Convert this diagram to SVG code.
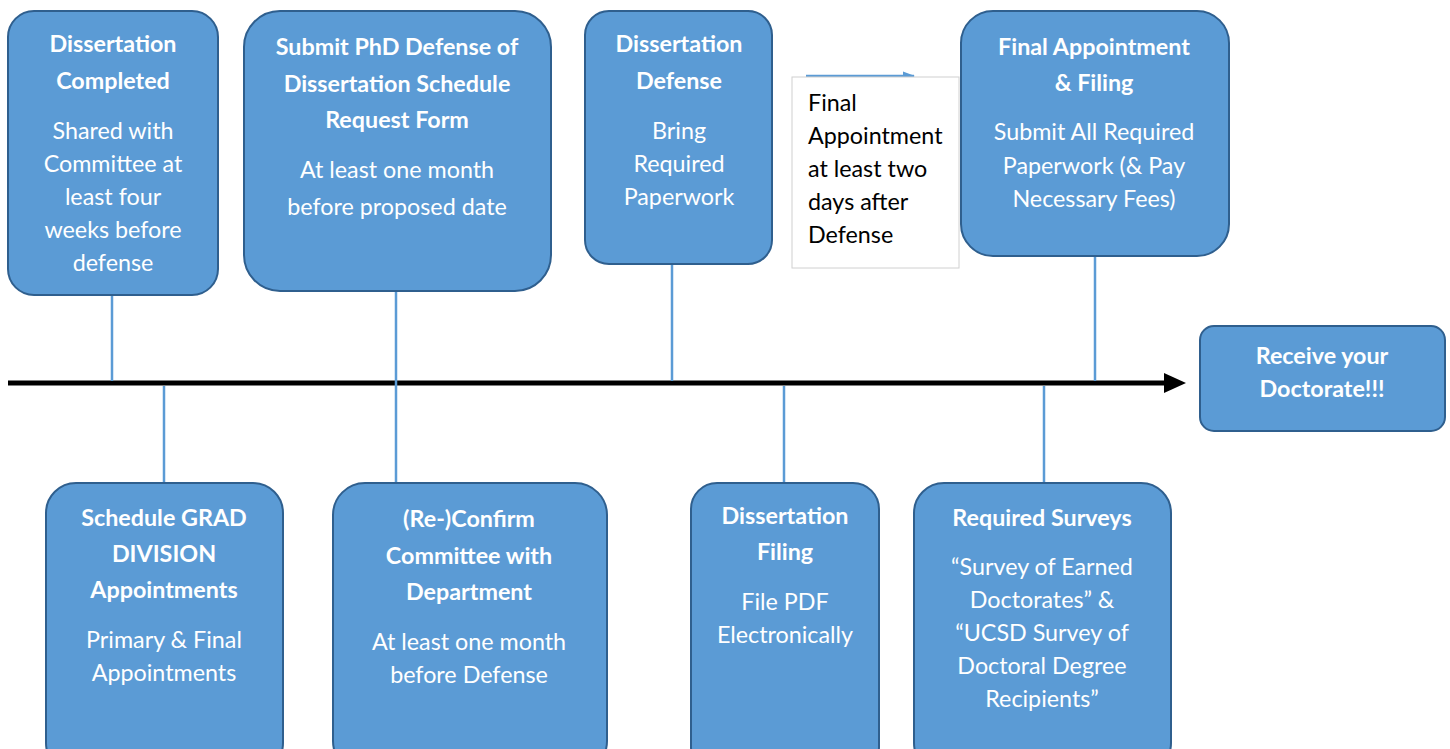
<svg xmlns="http://www.w3.org/2000/svg" width="1450" height="749" viewBox="0 0 1450 749">
<defs>
<style>
.box{fill:#5B9BD5;stroke:#2F5F8E;stroke-width:2}
.t{font-family:Lato,"Open Sans","Liberation Sans",sans-serif;fill:#fff;text-anchor:middle;font-size:23.3px}
.b{font-weight:bold}
.c{stroke:#5B9BD5;stroke-width:2.5;fill:none}
.n{font-family:Lato,"Open Sans","Liberation Sans",sans-serif;fill:#000;font-size:23.3px}
</style>
<marker id="ab" markerWidth="12" markerHeight="10" refX="11" refY="5" orient="auto" markerUnits="userSpaceOnUse" viewBox="0 0 12 10">
<path d="M0,0.5 L12,5 L0,9.5 Z" fill="#5B9BD5"/>
</marker>
</defs>
<rect width="1450" height="749" fill="#fff"/>
<g id="connectors">
<line x1="8" y1="383" x2="1166" y2="383" stroke="#000" stroke-width="5"/>
<path d="M1164,373 L1186,383 L1164,393 Z" fill="#000"/>
<line class="c" x1="112" y1="295" x2="112" y2="381"/>
<line class="c" x1="164" y1="386" x2="164" y2="483"/>
<line class="c" x1="396" y1="291" x2="396" y2="483"/>
<line class="c" x1="672" y1="264" x2="672" y2="381"/>
<line class="c" x1="784" y1="386" x2="784" y2="483"/>
<line class="c" x1="1095" y1="256" x2="1095" y2="381"/>
<line class="c" x1="1044" y1="386" x2="1044" y2="483"/>
<line x1="806" y1="76" x2="914" y2="76" stroke="#5B9BD5" stroke-width="2.5" marker-end="url(#ab)"/>
</g>
<g id="n1">
<rect class="box" x="8" y="11" width="210" height="284" rx="26"/>
<text class="t b"><tspan x="113" y="52">Dissertation</tspan><tspan x="113" y="89">Completed</tspan></text>
<text class="t"><tspan x="113" y="139">Shared with</tspan><tspan x="113" y="172">Committee at</tspan><tspan x="113" y="205">least four</tspan><tspan x="113" y="238">weeks before</tspan><tspan x="113" y="271">defense</tspan></text>
</g>
<g id="n2">
<rect class="box" x="244" y="11" width="307" height="280" rx="36"/>
<text class="t b"><tspan x="397" y="55">Submit PhD Defense of</tspan><tspan x="397" y="92">Dissertation Schedule</tspan><tspan x="397" y="128">Request Form</tspan></text>
<text class="t"><tspan x="397" y="178">At least one month</tspan><tspan x="397" y="215">before proposed date</tspan></text>
</g>
<g id="n3">
<rect class="box" x="585" y="11" width="187" height="253" rx="24"/>
<text class="t b"><tspan x="679" y="52">Dissertation</tspan><tspan x="679" y="89">Defense</tspan></text>
<text class="t"><tspan x="679" y="139">Bring</tspan><tspan x="679" y="172">Required</tspan><tspan x="679" y="205">Paperwork</tspan></text>
</g>
<g id="note">
<rect x="792" y="77" width="167" height="191" fill="#fff" stroke="#D0D0D0" stroke-width="1"/>
<text class="n"><tspan x="808" y="111">Final</tspan><tspan x="808" y="144">Appointment</tspan><tspan x="808" y="177">at least two</tspan><tspan x="808" y="210">days after</tspan><tspan x="808" y="243">Defense</tspan></text>
</g>
<g id="n4">
<rect class="box" x="961" y="11" width="268" height="245" rx="32"/>
<text class="t b"><tspan x="1094" y="55">Final Appointment</tspan><tspan x="1094" y="91">&amp; Filing</tspan></text>
<text class="t"><tspan x="1094" y="140">Submit All Required</tspan><tspan x="1094" y="174">Paperwork (&amp; Pay</tspan><tspan x="1094" y="207">Necessary Fees)</tspan></text>
</g>
<g id="n5">
<rect class="box" x="1200" y="326" width="245" height="105" rx="14"/>
<text class="t b"><tspan x="1322" y="364">Receive your</tspan><tspan x="1322" y="397">Doctorate!!!</tspan></text>
</g>
<g id="n6">
<rect class="box" x="46" y="483" width="237" height="290" rx="30"/>
<text class="t b"><tspan x="164" y="526">Schedule GRAD</tspan><tspan x="164" y="562">DIVISION</tspan><tspan x="164" y="598">Appointments</tspan></text>
<text class="t"><tspan x="164" y="648">Primary &amp; Final</tspan><tspan x="164" y="681">Appointments</tspan></text>
</g>
<g id="n7">
<rect class="box" x="333" y="483" width="274" height="290" rx="32"/>
<text class="t b"><tspan x="469" y="527">(Re-)Confirm</tspan><tspan x="469" y="564">Committee with</tspan><tspan x="469" y="600">Department</tspan></text>
<text class="t"><tspan x="469" y="650">At least one month</tspan><tspan x="469" y="683">before Defense</tspan></text>
</g>
<g id="n8">
<rect class="box" x="691" y="483" width="188" height="290" rx="26"/>
<text class="t b"><tspan x="785" y="524">Dissertation</tspan><tspan x="785" y="560">Filing</tspan></text>
<text class="t"><tspan x="785" y="610">File PDF</tspan><tspan x="785" y="643">Electronically</tspan></text>
</g>
<g id="n9">
<rect class="box" x="914" y="483" width="257" height="290" rx="30"/>
<text class="t b"><tspan x="1042" y="526">Required Surveys</tspan></text>
<text class="t"><tspan x="1042" y="575">“Survey of Earned</tspan><tspan x="1042" y="608">Doctorates” &amp;</tspan><tspan x="1042" y="641">“UCSD Survey of</tspan><tspan x="1042" y="674">Doctoral Degree</tspan><tspan x="1042" y="707">Recipients”</tspan></text>
</g>
</svg>
